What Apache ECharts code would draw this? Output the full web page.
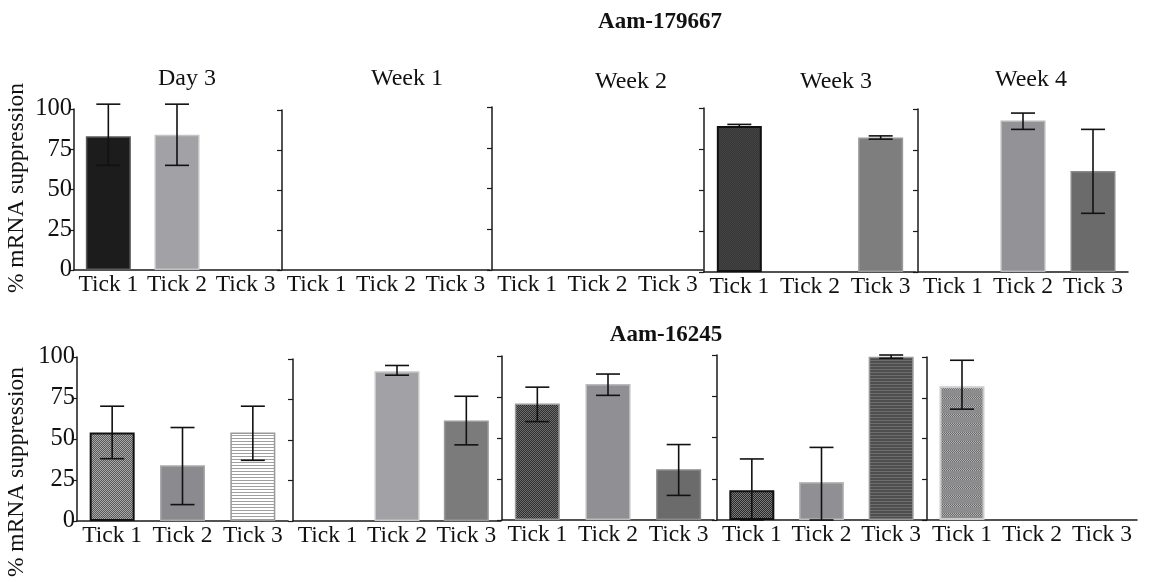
<!DOCTYPE html>
<html lang="en">
<head>
<meta charset="UTF-8">
<title>% mRNA suppression</title>
<script src="https://cdn.jsdelivr.net/npm/echarts@6/dist/echarts.min.js"></script>
<style>html,body{margin:0;background:#fff}#main{width:1154px;height:582px}</style>
</head>
<body>
<div id="main"></div>
<script>
var categories = ['Tick 1', 'Tick 2', 'Tick 3'];
var panelTitles = ['Day 3', 'Week 1', 'Week 2', 'Week 3', 'Week 4'];
var rowTitles = ['Aam-179667', 'Aam-16245'];
var yTicks = [0, 25, 50, 75, 100];

// Aam-179667
var topDay3 = [83, 84, null];
var topWeek1 = [null, null, null];
var topWeek2 = [null, null, null];
var topWeek3 = [89, null, 82];
var topWeek4 = [null, 93, 62];
// error bars [low, high]
var topDay3Err = [[65, 103], [65, 103], null];
var topWeek1Err = [null, null, null];
var topWeek2Err = [null, null, null];
var topWeek3Err = [[88.5, 90], null, [81, 83]];
var topWeek4Err = [null, [87.5, 97.5], [36, 87.5]];

// Aam-16245
var botDay3 = [54, 34, 54];
var botWeek1 = [null, 92.5, 62];
var botWeek2 = [71, 83, 31];
var botWeek3 = [18, 23, 99];
var botWeek4 = [82, null, null];
var botDay3Err = [[38, 70], [10, 57], [37, 70]];
var botWeek1Err = [null, [90, 96], [47, 77]];
var botWeek2Err = [[60, 81], [76, 89], [15, 46]];
var botWeek3Err = [[0, 37], [0, 44], [98, 100]];
var botWeek4Err = [[68, 98], null, null];

var FONT = 'Liberation Serif';

// fill patterns
function checker(a, b) {
    var c = document.createElement('canvas');
    c.width = 2; c.height = 2;
    var g = c.getContext('2d');
    g.fillStyle = a; g.fillRect(0, 0, 2, 2);
    g.fillStyle = b; g.fillRect(0, 0, 1, 1); g.fillRect(1, 1, 1, 1);
    return {image: c, repeat: 'repeat'};
}
function stripes(a, b, n) {
    var c = document.createElement('canvas');
    c.width = 2; c.height = n;
    var g = c.getContext('2d');
    g.fillStyle = a; g.fillRect(0, 0, 2, n);
    g.fillStyle = b; g.fillRect(0, 0, 2, 1);
    return {image: c, repeat: 'repeat'};
}
function bands() {
    var c = document.createElement('canvas');
    c.width = 2; c.height = 9;
    var g = c.getContext('2d');
    g.fillStyle = '#8c8c8e'; g.fillRect(0, 0, 2, 9);
    g.fillStyle = '#6a6a6a'; g.fillRect(0, 0, 1, 1); g.fillRect(1, 1, 1, 1); g.fillRect(0, 2, 1, 1);
    g.fillStyle = '#b0b0b0'; g.fillRect(1, 0, 1, 1); g.fillRect(0, 1, 1, 1); g.fillRect(1, 2, 1, 1);
    return {image: c, repeat: 'repeat'};
}

function st(color, border, bw) {
    return {color: color, borderColor: border, borderWidth: bw || 1.5};
}

var panels = [
    {vals: topDay3, err: topDay3Err, styles: [st('#1c1c1c', '#5a5a5a'), st('#a2a2a6', '#c4c4c4'), null]},
    {vals: topWeek1, err: topWeek1Err, styles: [null, null, null]},
    {vals: topWeek2, err: topWeek2Err, styles: [null, null, null]},
    {vals: topWeek3, err: topWeek3Err, styles: [st(checker('#363636', '#444444'), '#111', 2), null, st('#7e7e7e', '#9a9a9a')]},
    {vals: topWeek4, err: topWeek4Err, styles: [null, st('#939397', '#b8b8b8'), st('#6b6b6b', '#8a8a8a')]},
    {vals: botDay3, err: botDay3Err, styles: [st(checker('#5a5a5a', '#a8a8a8'), '#111', 2), st('#8b8b8f', '#aaaaaa'), st(stripes('#ffffff', '#a0a0a0', 3), '#999')]},
    {vals: botWeek1, err: botWeek1Err, styles: [null, st('#a2a2a6', '#c8c8c8'), st('#7b7b7b', '#9a9a9a')]},
    {vals: botWeek2, err: botWeek2Err, styles: [st(checker('#2e2e2e', '#6e6e6e'), '#999'), st('#909094', '#bbbbbb'), st('#6b6b6b', '#8a8a8a')]},
    {vals: botWeek3, err: botWeek3Err, styles: [st(checker('#2a2a2a', '#7a7a7a'), '#111', 2), st('#909094', '#bbbbbb'), st(stripes('#4e4e4e', '#6e6e6e', 3), '#999')]},
    {vals: botWeek4, err: botWeek4Err, styles: [st(bands(), '#cccccc', 2), null, null]}
];

// grid rects [left, top, width, height]
var rects = [
    [74, 109, 206, 161], [282, 110, 208, 160], [492, 107, 211, 163], [704, 108, 212, 164], [918, 109, 210, 163],
    [77, 357, 211, 164], [293, 359, 208, 162], [502, 356, 212, 164], [717, 355, 209, 165], [927, 357, 210, 163]
];

var grids = [], xAxes = [], yAxes = [], series = [];
panels.forEach(function (p, i) {
    var r = rects[i];
    grids.push({left: r[0], top: r[1], width: r[2], height: r[3], containLabel: false});
    xAxes.push({
        type: 'category', gridIndex: i, data: categories,
        axisLine: {lineStyle: {color: '#1a1a1a', width: 1.5}},
        axisTick: {alignWithLabel: true, length: 5, lineStyle: {color: '#1a1a1a', width: 1.2}},
        axisLabel: {interval: 0, margin: 3, fontFamily: FONT, fontSize: 23.5, color: '#111'}
    });
    yAxes.push({
        type: 'value', gridIndex: i, min: 0, max: 100, interval: 25,
        splitLine: {show: false},
        axisLine: {show: true, lineStyle: {color: '#1a1a1a', width: 1.5}},
        axisTick: {show: true, length: 5, lineStyle: {color: '#1a1a1a', width: 1.2}},
        axisLabel: {show: i % 5 === 0, margin: 2, fontFamily: FONT, fontSize: 24.5, color: '#111',
            formatter: function (v) { return yTicks.indexOf(v) >= 0 ? String(v) : ''; }}
    });
    series.push({
        type: 'bar', xAxisIndex: i, yAxisIndex: i, barWidth: 45,
        data: p.vals.map(function (v, k) {
            return v == null ? null : {value: v, itemStyle: p.styles[k]};
        })
    });
    var errData = [];
    p.err.forEach(function (e, k) {
        if (e) errData.push([k, e[0], e[1]]);
    });
    series.push({
        type: 'custom', xAxisIndex: i, yAxisIndex: i, z: 5,
        data: errData,
        renderItem: function (params, api) {
            var lo = api.coord([api.value(0), api.value(1)]);
            var hi = api.coord([api.value(0), api.value(2)]);
            var w = 12;
            var s = {stroke: '#111', lineWidth: 1.6};
            return {type: 'group', children: [
                {type: 'line', shape: {x1: hi[0], y1: hi[1], x2: lo[0], y2: lo[1]}, style: s},
                {type: 'line', shape: {x1: hi[0] - w, y1: hi[1], x2: hi[0] + w, y2: hi[1]}, style: s},
                {type: 'line', shape: {x1: lo[0] - w, y1: lo[1], x2: lo[0] + w, y2: lo[1]}, style: s}
            ]};
        }
    });
});

var titlePos = [[187, 79], [407, 79], [631, 82], [836, 82], [1031, 80]];
var graphics = [];
panelTitles.forEach(function (t, i) {
    graphics.push({type: 'text', x: titlePos[i][0], y: titlePos[i][1],
        style: {text: t, font: '24px "' + FONT + '"', fill: '#111', textAlign: 'center', textVerticalAlign: 'middle'}});
});
graphics.push({type: 'text', x: 660, y: 22,
    style: {text: rowTitles[0], font: 'bold 23px "' + FONT + '"', fill: '#111', textAlign: 'center', textVerticalAlign: 'middle'}});
graphics.push({type: 'text', x: 666, y: 335,
    style: {text: rowTitles[1], font: 'bold 23px "' + FONT + '"', fill: '#111', textAlign: 'center', textVerticalAlign: 'middle'}});
[[17, 188], [17, 472]].forEach(function (pos) {
    graphics.push({type: 'text', x: pos[0], y: pos[1], rotation: Math.PI / 2,
        style: {text: '% mRNA suppression', font: '23.5px "' + FONT + '"', fill: '#111', textAlign: 'center', textVerticalAlign: 'middle'}});
});

var myChart = echarts.init(document.getElementById('main'));
myChart.setOption({
    animation: false,
    grid: grids,
    xAxis: xAxes,
    yAxis: yAxes,
    series: series,
    graphic: graphics
});
</script>
</body>
</html>
